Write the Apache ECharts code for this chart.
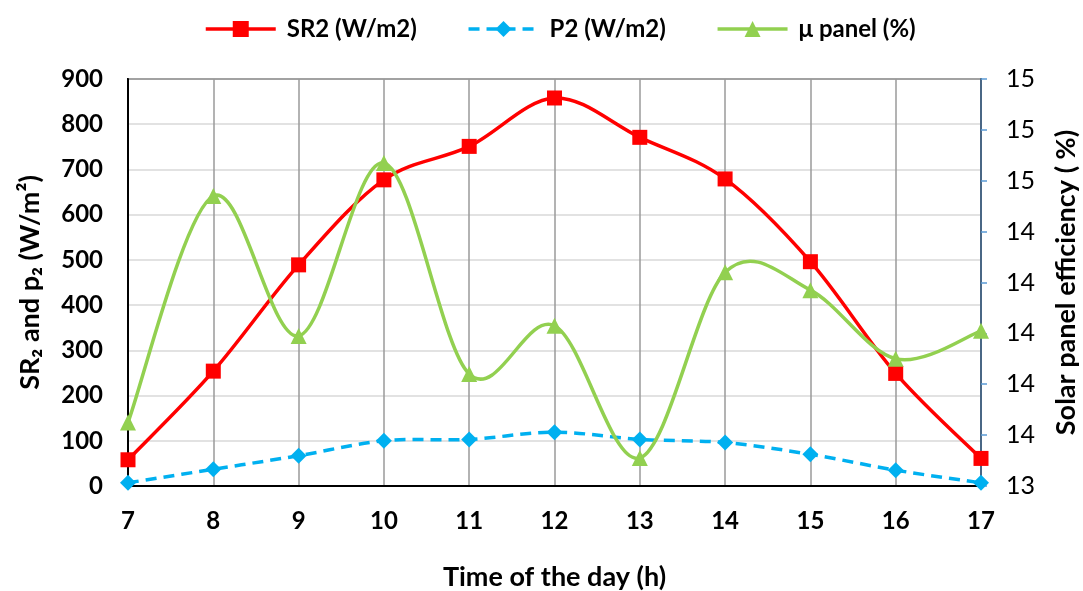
<!DOCTYPE html>
<html>
<head>
<meta charset="utf-8">
<script src="https://cdn.jsdelivr.net/npm/echarts@6/dist/echarts.min.js"></script>
<style>html,body{margin:0;padding:0;background:#fff}#c{width:1083px;height:591px}</style>
</head>
<body>
<div id="c"></div>
<script>
const hours = ['7','8','9','10','11','12','13','14','15','16','17'];
const sr2 = [58, 254, 489, 677, 751, 858, 771, 679, 496, 249, 61];
const p2 = [7, 37, 67, 100, 103, 119, 103, 96, 70, 35, 7];
const muPanel = [13.65, 14.54, 13.99, 14.67, 13.84, 14.03, 13.51, 14.24, 14.17, 13.90, 14.01];

const FONT = 'Lato, "Open Sans", "DejaVu Sans", sans-serif';

// Excel-like smoothed curve (Catmull-Rom -> cubic Bezier) through points placed by the axes
function smoothCurve(values, yAxisIndex, color, dash, z) {
  return {
    type: 'custom',
    name: 'curve' + z,
    yAxisIndex: yAxisIndex,
    z: z,
    silent: true,
    data: values.map((v, i) => [i, v]),
    renderItem: function (params, api) {
      if (params.dataIndex !== 0) return null;
      const p = values.map((v, i) => api.coord([i, v]));
      const n = p.length;
      let d = 'M' + p[0][0] + ' ' + p[0][1];
      for (let i = 0; i < n - 1; i++) {
        const p0 = p[Math.max(i - 1, 0)], p1 = p[i], p2 = p[i + 1], p3 = p[Math.min(i + 2, n - 1)];
        const c1x = p1[0] + (p2[0] - p0[0]) / 6, c1y = p1[1] + (p2[1] - p0[1]) / 6;
        const c2x = p2[0] - (p3[0] - p1[0]) / 6, c2y = p2[1] - (p3[1] - p1[1]) / 6;
        d += ' C' + c1x + ' ' + c1y + ' ' + c2x + ' ' + c2y + ' ' + p2[0] + ' ' + p2[1];
      }
      return {
        type: 'path',
        shape: { pathData: d },
        style: { fill: 'none', stroke: color, lineWidth: 3.5, lineDash: dash || null, lineCap: 'butt', lineJoin: 'round' }
      };
    }
  };
}

const chart = echarts.init(document.getElementById('c'));
chart.setOption({
  animation: false,
  textStyle: { fontFamily: FONT },
  legend: {
    top: 12,
    left: 199,
    itemWidth: 70,
    itemHeight: 20,
    itemGap: 50,
    textStyle: { fontFamily: FONT, fontWeight: 'bold', fontSize: 24, color: '#000', padding: [0, 0, 0, 6] },
    data: [
      { name: 'SR2 (W/m2)', lineStyle: { opacity: 1, width: 3.5 } },
      { name: 'P2 (W/m2)', lineStyle: { opacity: 1, width: 3.5 } },
      { name: 'μ panel (%)', lineStyle: { opacity: 1, width: 3.5 } }
    ]
  },
  grid: {
    left: 128, right: 102, top: 79, bottom: 105,
    outerBoundsMode: 'none',
    show: true, borderColor: '#000', borderWidth: 2, backgroundColor: '#fff'
  },
  xAxis: {
    type: 'category',
    data: hours,
    boundaryGap: false,
    name: 'Time of the day (h)',
    nameLocation: 'middle',
    nameGap: 78,
    nameTextStyle: { fontFamily: FONT, fontWeight: 'bold', fontSize: 27, color: '#000' },
    axisLine: { lineStyle: { color: '#000', width: 2 } },
    axisTick: { show: false },
    axisLabel: { fontFamily: FONT, fontWeight: 'bold', fontSize: 24, color: '#000', margin: 23 },
    splitLine: { show: true, lineStyle: { color: '#9a9a9a', width: 1.5 } }
  },
  yAxis: [
    {
      type: 'value',
      min: 0, max: 900, interval: 100,
      name: 'SR₂ and p₂ (W/m²)',
      nameLocation: 'middle',
      nameGap: 84,
      nameRotate: 90,
      nameTextStyle: { fontFamily: FONT, fontWeight: 'bold', fontSize: 27, color: '#000' },
      axisLine: { show: true, lineStyle: { color: '#000', width: 2 } },
      axisTick: { show: false },
      axisLabel: { fontFamily: FONT, fontWeight: 'bold', fontSize: 24, color: '#000', margin: 25 },
      splitLine: { show: true, lineStyle: { color: '#d9d9d9', width: 1.5 } }
    },
    {
      type: 'value',
      position: 'right',
      min: 13.4, max: 15.0, interval: 0.2,
      name: 'Solar panel efficiency ( %)',
      nameLocation: 'middle',
      nameGap: 72,
      nameRotate: 90,
      nameTextStyle: { fontFamily: FONT, fontWeight: 'bold', fontSize: 27, color: '#000' },
      axisLine: { show: true, lineStyle: { color: '#4a6785', width: 2 } },
      axisTick: { show: true, length: 6, inside: false, lineStyle: { color: '#5b9bd5', width: 1.5 } },
      axisLabel: { fontFamily: FONT, fontSize: 25, color: '#000', margin: 25,
        formatter: v => String(Math.round(v)) },
      splitLine: { show: false }
    }
  ],
  series: [
    smoothCurve(sr2, 0, '#ff0000', null, 2),
    {
      name: 'SR2 (W/m2)', type: 'line', yAxisIndex: 0, data: sr2,
      symbol: 'rect', symbolSize: 15,
      itemStyle: { color: '#ff0000' },
      lineStyle: { color: '#ff0000', width: 3.5, opacity: 0 }, z: 3
    },
    smoothCurve(p2, 0, '#00b0f0', [11, 7], 4),
    {
      name: 'P2 (W/m2)', type: 'line', yAxisIndex: 0, data: p2,
      symbol: 'diamond', symbolSize: 16,
      itemStyle: { color: '#00b0f0' },
      lineStyle: { color: '#00b0f0', width: 3.5, type: [11, 7], opacity: 0 }, z: 5
    },
    smoothCurve(muPanel, 1, '#92d050', null, 6),
    {
      name: 'μ panel (%)', type: 'line', yAxisIndex: 1, data: muPanel,
      symbol: 'triangle', symbolSize: 16,
      itemStyle: { color: '#92d050' },
      lineStyle: { color: '#92d050', width: 3.5, opacity: 0 }, z: 7
    }
  ]
});
</script>
</body>
</html>
